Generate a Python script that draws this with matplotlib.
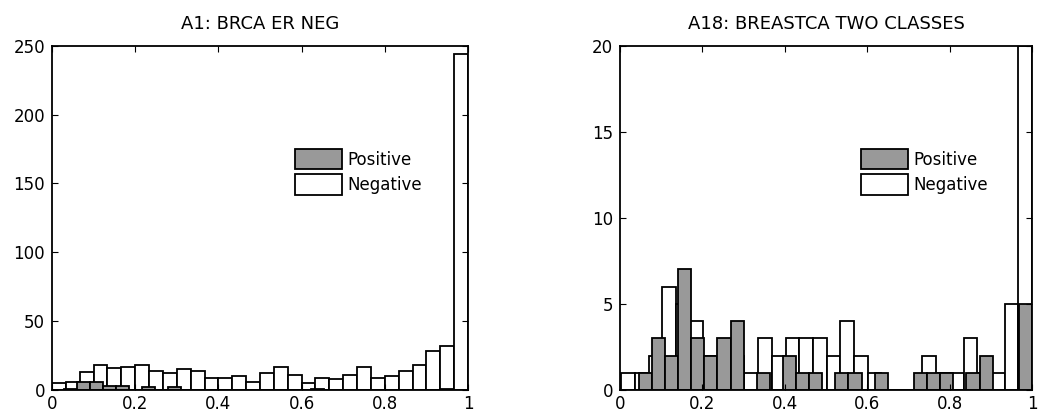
import numpy as np
import matplotlib
matplotlib.use("Agg")
import matplotlib.pyplot as plt
from matplotlib.patches import Patch

plt.rcParams['font.family'] = ['DejaVu Sans']

# ---- data (histogram counts, 30 bins each) ----
titles = ["A1: BRCA ER NEG", "A18: BREASTCA TWO CLASSES"]
labels = ["Positive", "Negative"]

neg_left = [5, 6, 13, 18, 16, 17, 18, 14, 12, 15, 14, 9, 9, 10, 6, 12, 17, 11, 5, 9,
            8, 11, 17, 9, 10, 14, 18, 28, 32, 244]
pos_left = [1, 6, 6, 3, 3, 0, 2, 0, 2, 0, 0, 0, 0, 0, 0, 0, 0, 0, 0, 1,
            0, 0, 0, 0, 0, 0, 0, 0, 0, 1]
neg_left_range = (0.0, 1.0)
pos_left_range = (0.029, 0.965)

neg_right = [1, 1, 2, 6, 5, 4, 2, 1, 2, 1, 3, 2, 3, 3, 3, 2, 4, 2, 1, 0,
             0, 0, 2, 1, 1, 3, 1, 1, 5, 20]
pos_right = [1, 3, 2, 7, 3, 2, 3, 4, 0, 1, 0, 2, 1, 1, 0, 1, 1, 0, 1, 0,
             0, 1, 1, 1, 0, 1, 2, 0, 0, 5]
neg_right_range = (0.003, 1.0)
pos_right_range = (0.0455, 1.0)

xticks = [0, 0.2, 0.4, 0.6, 0.8, 1]
xticklabels = ["0", "0.2", "0.4", "0.6", "0.8", "1"]
yticks_left = [0, 50, 100, 150, 200, 250]
yticks_right = [0, 5, 10, 15, 20]

GRAY = "#999999"
LW = 1.3
W, H = 1039, 416
fig = plt.figure(figsize=(W / 100, H / 100), dpi=100)

def ax_rect(x0, x1, ytop, ybot):
    return [x0 / W, 1 - ybot / H, (x1 - x0) / W, (ybot - ytop) / H]

axL = fig.add_axes(ax_rect(52, 468, 45.7, 390))
axR = fig.add_axes(ax_rect(620, 1032, 45.7, 390))

def draw_hist(ax, counts, rng, color):
    edges = np.linspace(rng[0], rng[1], len(counts) + 1)
    ax.bar(edges[:-1], counts, width=np.diff(edges), align='edge',
           color=color, edgecolor='black', linewidth=LW)

def style(ax, title, yticks, ylim):
    ax.set_xlim(0, 1)
    ax.set_ylim(*ylim)
    ax.set_xticks(xticks)
    ax.set_xticklabels(xticklabels)
    ax.set_yticks(yticks)
    ax.tick_params(direction='in', length=4, width=0.8, top=True, right=True,
                   labelsize=12)
    ax.tick_params(axis='x', pad=3.5)
    ax.tick_params(axis='y', pad=5)
    for s in ax.spines.values():
        s.set_linewidth(LW)
    ax.set_title(title, fontsize=13, pad=12)
    handles = [Patch(facecolor=GRAY, edgecolor='black', linewidth=LW),
               Patch(facecolor='white', edgecolor='black', linewidth=LW)]
    ax.legend(handles, labels, loc='upper left', bbox_to_anchor=(0.584, 0.70),
              frameon=False, borderaxespad=0, borderpad=0, fontsize=12,
              handlelength=2.85, handleheight=1.5, handletextpad=0.3,
              labelspacing=0.3)

draw_hist(axL, neg_left, neg_left_range, 'white')
draw_hist(axL, pos_left, pos_left_range, GRAY)
style(axL, titles[0], yticks_left, (0, 250))

draw_hist(axR, neg_right, neg_right_range, 'white')
draw_hist(axR, pos_right, pos_right_range, GRAY)
style(axR, titles[1], yticks_right, (0, 20))

fig.savefig("out.png", dpi=100)
